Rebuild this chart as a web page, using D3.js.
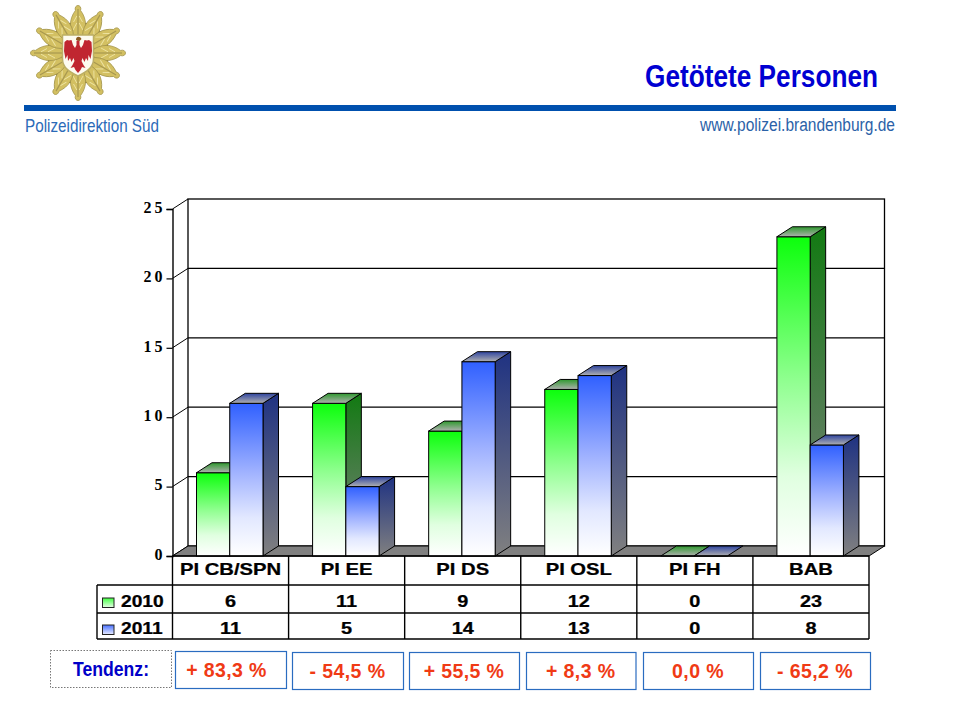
<!DOCTYPE html>
<html>
<head>
<meta charset="utf-8">
<title>Getötete Personen</title>
<script src="https://cdn.jsdelivr.net/npm/d3@7"></script>
<style>
  html, body { margin: 0; padding: 0; background: #fff; }
  svg { display: block; }
  text { font-family: "Liberation Sans", Arial, sans-serif; }
</style>
</head>
<body>
<svg id="chart" width="960" height="720"></svg>
<script>
// data
var categories = ["PI CB/SPN", "PI EE", "PI DS", "PI OSL", "PI FH", "BAB"];
var years = ["2010", "2011"];
var values2010 = [6, 11, 9, 12, 0, 23];
var values2011 = [11, 5, 14, 13, 0, 8];
var yTicks = [0, 5, 10, 15, 20, 25];
var tendenz = ["+ 83,3 %", "- 54,5 %", "+ 55,5 %", "+ 8,3 %", "0,0 %", "- 65,2 %"];

var svg = d3.select("#chart");
var defs = svg.append("defs");

function gradient(id, stops) {
    var g = defs.append("linearGradient").attr("id", id)
        .attr("x1", 0).attr("y1", 0).attr("x2", 0).attr("y2", 1);
    stops.forEach(function(s) {
        g.append("stop").attr("offset", s[0]).attr("stop-color", s[1]);
    });
}
gradient("front0", [[0, "#0cff0c"], [0.45, "#90ff90"], [0.75, "#e0ffe0"], [1, "#ffffff"]]);
gradient("front1", [[0, "#3060ff"], [0.45, "#a0b2ff"], [0.75, "#e2e8ff"], [1, "#ffffff"]]);
gradient("side0", [[0, "#127a12"], [1, "#808080"]]);
gradient("side1", [[0, "#1f3282"], [1, "#808080"]]);
gradient("top0", [[0, "#2f9a2f"], [1, "#b0b0b0"]]);
gradient("top1", [[0, "#2f45a0"], [1, "#b0b0b0"]]);
gradient("swatch0", [[0, "#40ff40"], [1, "#e8ffe8"]]);
gradient("swatch1", [[0, "#4870ff"], [1, "#e8ecff"]]);

// ---- header ----
var blue = "#0050ae";
svg.append("rect").attr("x", 24).attr("y", 105).attr("width", 872).attr("height", 6).attr("fill", blue);

svg.append("text").text("Getötete Personen")
    .attr("x", 645).attr("y", 87)
    .attr("textLength", 233).attr("lengthAdjust", "spacingAndGlyphs")
    .attr("font-size", 30.5).attr("font-weight", "bold").attr("fill", "#0000d2");
svg.append("text").text("www.polizei.brandenburg.de")
    .attr("x", 700).attr("y", 131)
    .attr("textLength", 195).attr("lengthAdjust", "spacingAndGlyphs")
    .attr("font-size", 18).attr("fill", "#2b62a8");
svg.append("text").text("Polizeidirektion Süd")
    .attr("x", 25).attr("y", 132)
    .attr("textLength", 134).attr("lengthAdjust", "spacingAndGlyphs")
    .attr("font-size", 19).attr("fill", "#2b6ab8");

// police star
var logo = svg.append("g").attr("transform", "translate(78,53)");
d3.range(12).forEach(function(i) {
    logo.append("path")
        .attr("d", "M-2,-14 L2,-14 L1.2,-31 L-1.2,-31 Z")
        .attr("fill", "#54431c")
        .attr("transform", "rotate(" + (15 + i * 30) + ")");
});
d3.range(12).forEach(function(i) {
    var ray = logo.append("g").attr("transform", "rotate(" + (i * 30) + ")");
    ray.append("path")
        .attr("d", "M-2.5,-14 C-9.5,-23 -9,-34 -2.6,-42.5 C-3.6,-46 -1.5,-47.5 0,-47.5 C1.5,-47.5 3.6,-46 2.6,-42.5 C9,-34 9.5,-23 2.5,-14 Z")
        .attr("fill", "#d3c062").attr("stroke", "#a5964c").attr("stroke-width", 0.8);
    ray.append("path").attr("d", "M0,-16 L0,-44").attr("stroke", "#a89850").attr("stroke-width", 1.2);
    ray.append("path").attr("d", "M-5,-23 L-1.2,-30 M5,-23 L1.2,-30 M-4.5,-31 L-1.2,-37 M4.5,-31 L1.2,-37")
        .attr("stroke", "#efe5a6").attr("stroke-width", 0.9).attr("fill", "none");
});
logo.append("path")
    .attr("d", "M-15.5,-18 L15.5,-18 L15.5,6 C15.5,15 8,19 0,23 C-8,19 -15.5,15 -15.5,6 Z")
    .attr("fill", "#fdfbf0").attr("stroke", "#bcae64").attr("stroke-width", 1.5);
var halfEagle = "M0,-13 L1.5,-12 L1.5,-8 L3,-5 L5,-8 L6.5,-13 L9,-12.5 L11,-13 L13.5,-11 L14,-2 L12.5,6 L10.5,2 L10,8 L8,5 L6.5,9 L4.5,5 L3.5,8 L5.5,12 L7.5,15 L4,14 L2.5,17 L0,20 Z";
[1, -1].forEach(function(sx) {
    logo.append("path").attr("d", halfEagle).attr("fill", "#c02630")
        .attr("transform", "scale(" + sx + ",1)");
});
logo.append("path").attr("d", "M-2,-13 C-2,-17 2,-17 3.5,-14 L1.5,-12 Z").attr("fill", "#8a5a20");

// ---- chart ----
var depthX = 15.5, depthY = -10;
var x = d3.scaleBand().domain(categories).range([172.5, 869]);
var xSeries = d3.scaleBand().domain(years).range([24, 90.5]);
var y = d3.scaleLinear().domain([0, 25]).range([556, 209]);

var plot = svg.append("g");
var backLeft = x.range()[0] + depthX, backRight = x.range()[1] + depthX;

// back wall
plot.append("rect")
    .attr("x", backLeft).attr("y", y(25) + depthY)
    .attr("width", backRight - backLeft).attr("height", y(0) - y(25))
    .attr("fill", "#fff").attr("stroke", "#000").attr("stroke-width", 1.3);

// grid lines + slanted lines on the left wall
plot.selectAll(".grid").data(yTicks.filter(function(d) { return d > 0 && d < 25; })).enter()
    .append("line").attr("class", "grid")
    .attr("x1", backLeft).attr("x2", backRight)
    .attr("y1", function(d) { return y(d) + depthY; })
    .attr("y2", function(d) { return y(d) + depthY; })
    .attr("stroke", "#000").attr("stroke-width", 1.2);
plot.selectAll(".slant").data(yTicks).enter()
    .append("line").attr("class", "slant")
    .attr("x1", x.range()[0]).attr("x2", backLeft)
    .attr("y1", function(d) { return y(d); })
    .attr("y2", function(d) { return y(d) + depthY; })
    .attr("stroke", "#000").attr("stroke-width", 1);

// floor
plot.append("path")
    .attr("d", d3.line()([
        [x.range()[0], y(0)], [backLeft, y(0) + depthY],
        [backRight, y(0) + depthY], [x.range()[1], y(0)]
    ]) + "Z")
    .attr("fill", "#808080").attr("stroke", "#000").attr("stroke-width", 1);

// y axis
var yAxis = d3.axisLeft(y).tickValues(yTicks).tickSize(6).tickPadding(1);
var axisG = svg.append("g").attr("transform", "translate(" + x.range()[0] + ",0)").call(yAxis);
axisG.select(".domain").attr("stroke-width", 1.4);
axisG.selectAll(".tick line").attr("stroke-width", 1.2);
axisG.selectAll(".tick text")
    .style("font-family", '"Liberation Serif", serif')
    .attr("font-size", 16).attr("font-weight", "bold").attr("fill", "#000")
    .attr("letter-spacing", 3)
    .attr("dy", "0.2em");

// bars
var rows = [values2010, values2011];
categories.forEach(function(cat, c) {
    years.forEach(function(yr, s) {
        var v = rows[s][c];
        var x0 = x(cat) + xSeries(yr), x1 = x0 + xSeries.bandwidth();
        var yTop = y(v), yBase = y(0);
        var g = plot.append("g").attr("stroke", "#000").attr("stroke-width", 1);
        if (v > 0) {
            g.append("path")
                .attr("d", d3.line()([[x1, yTop], [x1 + depthX, yTop + depthY], [x1 + depthX, yBase + depthY], [x1, yBase]]) + "Z")
                .attr("fill", "url(#side" + s + ")");
            g.append("rect")
                .attr("x", x0).attr("y", yTop)
                .attr("width", x1 - x0).attr("height", yBase - yTop)
                .attr("fill", "url(#front" + s + ")");
        }
        g.append("path")
            .attr("d", d3.line()([[x0, yTop], [x0 + depthX, yTop + depthY], [x1 + depthX, yTop + depthY], [x1, yTop]]) + "Z")
            .attr("fill", "url(#top" + s + ")");
    });
});

// ---- data table ----
var table = svg.append("g");
var tableLeft = 97;
var rowLines = [585, 613, 639];
var rowBase = [607, 634];

function stretched(parent, str, cx, base, size, sx, anchor) {
    return parent.append("text").text(str)
        .attr("transform", "translate(" + cx + "," + base + ") scale(" + sx + ",1)")
        .attr("text-anchor", anchor || "middle")
        .attr("font-size", size).attr("font-weight", "bold").attr("fill", "#000")
        .attr("stroke", "#000").attr("stroke-width", 0.25);
}

function tline(x1, y1, x2, y2) {
    table.append("line").attr("x1", x1).attr("y1", y1).attr("x2", x2).attr("y2", y2)
        .attr("stroke", "#000").attr("stroke-width", 1.4);
}
tline(x.range()[0], y(0), x.range()[1], y(0));
rowLines.forEach(function(ry) { tline(tableLeft, ry, x.range()[1], ry); });
tline(tableLeft, rowLines[0], tableLeft, rowLines[2]);
categories.forEach(function(cat) { tline(x(cat), y(0), x(cat), rowLines[2]); });
tline(x.range()[1], y(0), x.range()[1], rowLines[2]);

categories.forEach(function(cat, c) {
    var cx = x(cat) + x.bandwidth() / 2;
    stretched(table, cat, cx, 575, 16.3, 1.24);
    rows.forEach(function(r, s) {
        stretched(table, String(r[c]), cx, rowBase[s], 16.3, 1.22);
    });
});
years.forEach(function(yr, s) {
    table.append("rect").attr("x", 102.5).attr("y", rowBase[s] - 9)
        .attr("width", 11.5).attr("height", 9.5)
        .attr("fill", "url(#swatch" + s + ")").attr("stroke", "#222").attr("stroke-width", 1);
    stretched(table, yr, 121, rowBase[s], 16, 1.2, "start");
});

// ---- Tendenz row ----
var boxLefts = [175, 292, 409, 526, 643, 760];
var boxRights = [286, 403, 519, 635.5, 753, 870];
var boxTops = [651, 652, 652, 652, 652, 652];

svg.append("rect").attr("x", 50.5).attr("y", 650.5).attr("width", 121).attr("height", 37)
    .attr("fill", "#fff").attr("stroke", "#777").attr("stroke-width", 1).attr("stroke-dasharray", "1.5,1.5");
svg.append("text").text("Tendenz:")
    .attr("x", 73).attr("y", 676)
    .attr("textLength", 76).attr("lengthAdjust", "spacingAndGlyphs")
    .attr("font-size", 20).attr("font-weight", "bold").attr("fill", "#0000c8");

tendenz.forEach(function(t, i) {
    svg.append("rect")
        .attr("x", boxLefts[i] + 0.5).attr("y", boxTops[i] + 0.5)
        .attr("width", boxRights[i] - boxLefts[i]).attr("height", 37)
        .attr("fill", "#fff").attr("stroke", "#2a6cc0").attr("stroke-width", 1.2);
    svg.append("text").text(t)
        .attr("x", (boxLefts[i] + boxRights[i]) / 2 + (i === 0 ? -4 : 0)).attr("y", boxTops[i] + 26)
        .attr("text-anchor", "middle")
        .attr("font-size", 19.5).attr("letter-spacing", 0.4)
        .attr("font-weight", "bold").attr("fill", "#f03a15");
});
</script>
</body>
</html>
